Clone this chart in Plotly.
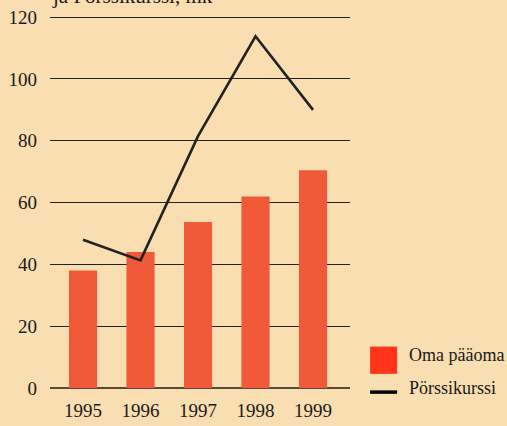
import plotly.graph_objects as go

years = ["1995", "1996", "1997", "1998", "1999"]
oma_paaoma = [38, 44, 53.7, 62, 70.5]
porssikurssi = [48, 41.3, 81.5, 113.8, 90]
y_ticks = [0, 20, 40, 60, 80, 100, 120]

BG = "#F8DEB0"
BAR = "#F05A38"
FONT = "Liberation Serif"

x_idx = list(range(len(years)))

fig = go.Figure()

fig.add_trace(go.Bar(
    x=x_idx, y=oma_paaoma, width=0.49,
    marker=dict(color=BAR, line=dict(width=0)),
    name="Oma pääoma", showlegend=False
))

fig.add_trace(go.Scatter(
    x=x_idx, y=porssikurssi, mode="lines",
    line=dict(color="#222222", width=2.6),
    name="Pörssikurssi", showlegend=False
))

# manual legend, to get the large swatches
fig.add_shape(type="rect", xref="paper", yref="paper",
              x0=1.067, x1=1.157, y0=0.111, y1=0.038,
              fillcolor="#FF3419", line=dict(width=0))
fig.add_shape(type="line", xref="paper", yref="paper",
              x0=1.067, x1=1.157, y0=-0.011, y1=-0.011,
              line=dict(color="#000000", width=3.5))
fig.add_annotation(xref="paper", yref="paper", x=1.19, y=0.077, yshift=-8,
                   text="Oma pääoma", showarrow=False, xanchor="left",
                   font=dict(size=18, color="#1a1a1a", family=FONT))
fig.add_annotation(xref="paper", yref="paper", x=1.19, y=-0.011, yshift=-8,
                   text="Pörssikurssi", showarrow=False, xanchor="left",
                   font=dict(size=18, color="#1a1a1a", family=FONT))

# title cut off at the top
fig.add_annotation(xref="paper", yref="paper", x=0, y=1, yshift=5,
                   text="ja Pörssikurssi, mk", showarrow=False,
                   xanchor="left", yanchor="bottom",
                   font=dict(size=21, color="#1a1a1a", family=FONT))

fig.update_layout(
    width=507, height=426,
    margin=dict(l=50, r=157, t=15, b=38),
    paper_bgcolor=BG, plot_bgcolor=BG,
    font=dict(family=FONT, size=19, color="#1a1a1a"),
    xaxis=dict(
        tickmode="array", tickvals=x_idx, ticktext=years,
        range=[-0.574, 4.643], showgrid=False, zeroline=False,
        showline=False, ticks="", ticklabelstandoff=9,
        tickfont=dict(size=19), automargin=False
    ),
    yaxis=dict(
        range=[0, 120.7], tickvals=y_ticks, showgrid=True,
        gridcolor="#222222", gridwidth=1.3, zeroline=True,
        zerolinecolor="#5a4a3a", zerolinewidth=2.2,
        showline=False, ticks="", ticklabelstandoff=12,
        tickfont=dict(size=19), automargin=False
    ),
    showlegend=False
)

fig.write_html("out.html", config={"displayModeBar": False},
               post_script="document.body.style.margin='0';")
